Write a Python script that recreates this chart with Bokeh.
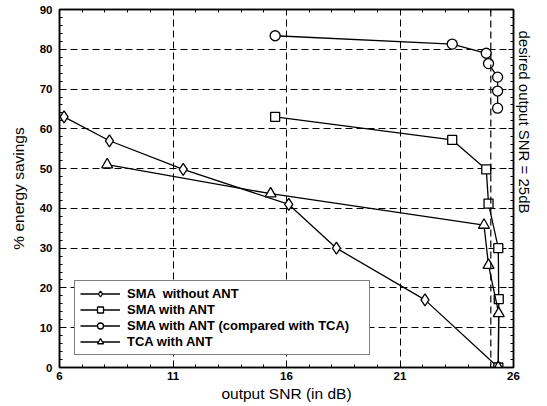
import math
from bokeh.plotting import figure
from bokeh.models import (Range1d, LinearAxis, FixedTicker,
                          Span, Title, Legend, LegendItem, CustomJSTickFormatter)
from bokeh.embed import file_html
from bokeh.resources import INLINE

# ---------------- data ----------------
x_ticks = [6, 11, 16, 21, 26]
y_ticks = [0, 10, 20, 30, 40, 50, 60, 70, 80, 90]
desired_snr = 25

sma_no_ant_x = [6.2, 8.2, 11.45, 16.1, 18.2, 22.1, 25.33]
sma_no_ant_y = [63, 57, 49.8, 41, 30, 17, 0]

sma_ant_x = [15.5, 23.3, 24.8, 24.9, 25.33, 25.35, 25.33]
sma_ant_y = [63, 57.2, 49.8, 41.2, 30, 17.2, 0]

sma_tca_x = [15.5, 23.3, 24.8, 24.9, 25.3, 25.3, 25.3]
sma_tca_y = [83.4, 81.3, 79, 76.4, 73, 69.5, 65.2]

tca_x = [8.1, 15.3, 24.7, 24.9, 25.35, 25.33]
tca_y = [51, 43.7, 35.8, 25.7, 13.6, 0]

labels = ["SMA  without ANT", "SMA with ANT",
          "SMA with ANT (compared with TCA)", "TCA with ANT"]

FONT = "Liberation Sans"

p = figure(width=539, height=404, x_range=Range1d(6, 26), y_range=Range1d(0, 90),
           output_backend="svg", toolbar_location=None,
           min_border_left=59, min_border_right=26, min_border_top=9, min_border_bottom=37,
           x_axis_label="output SNR (in dB)", y_axis_label="% energy savings")

p.outline_line_color = "black"
p.outline_line_width = 1.5
p.background_fill_color = "white"

minor_x = [v for v in range(6, 27) if v not in x_ticks]
minor_y = [v for v in range(0, 91, 2) if v % 10]
p.xaxis.ticker = FixedTicker(ticks=x_ticks, minor_ticks=minor_x)
p.yaxis.ticker = FixedTicker(ticks=y_ticks, minor_ticks=minor_y)

def style_axis(ax, show_labels=True):
    ax.axis_line_color = "black"
    ax.axis_line_width = 1.5
    ax.major_tick_in = 5
    ax.major_tick_out = 0
    ax.minor_tick_in = 3
    ax.minor_tick_out = 0
    ax.major_tick_line_color = "black"
    ax.minor_tick_line_color = "black"
    ax.major_label_text_font = FONT
    ax.major_label_text_font_style = "bold"
    ax.major_label_text_font_size = "11.5px"
    ax.major_label_text_color = "black"
    ax.axis_label_text_font = FONT
    ax.axis_label_text_font_style = "normal"
    ax.axis_label_text_font_size = "15.5px"
    ax.axis_label_text_color = "black"
    if not show_labels:
        ax.formatter = CustomJSTickFormatter(code="return ''")
        ax.major_label_standoff = 0

for ax in p.xaxis + p.yaxis:
    style_axis(ax)
p.xaxis.major_label_standoff = 4
p.xaxis.axis_label_standoff = 2
p.yaxis.major_label_standoff = 7
p.yaxis.axis_label_standoff = 10

ra = LinearAxis(ticker=FixedTicker(ticks=y_ticks, minor_ticks=minor_y))
style_axis(ra, show_labels=False)
p.add_layout(ra, "right")
ta = LinearAxis(ticker=FixedTicker(ticks=x_ticks, minor_ticks=minor_x))
style_axis(ta, show_labels=False)
p.add_layout(ta, "above")

p.xgrid.ticker = FixedTicker(ticks=x_ticks)
p.ygrid.ticker = FixedTicker(ticks=y_ticks)
for g in (p.xgrid, p.ygrid):
    g.grid_line_color = "black"
    g.grid_line_dash = "7 4"
    g.grid_line_width = 1

p.add_layout(Span(location=desired_snr, dimension="height", line_color="black",
                  line_dash="7 4", line_width=1.2))

lw = 1.3
r1l = p.line(sma_no_ant_x, sma_no_ant_y, line_color="black", line_width=lw)
r1s = p.scatter(sma_no_ant_x, sma_no_ant_y, marker="diamond", size=12,
                fill_color="white", line_color="black", line_width=lw)
r2l = p.line(sma_ant_x, sma_ant_y, line_color="black", line_width=lw)
r2s = p.scatter(sma_ant_x, sma_ant_y, marker="square", size=9,
                fill_color="white", line_color="black", line_width=lw)
r3l = p.line(sma_tca_x, sma_tca_y, line_color="black", line_width=lw)
r3s = p.scatter(sma_tca_x, sma_tca_y, marker="circle", size=10,
                fill_color="white", line_color="black", line_width=lw)
r4l = p.line(tca_x, tca_y, line_color="black", line_width=lw)
r4s = p.scatter(tca_x, tca_y, marker="triangle", size=11,
                fill_color="white", line_color="black", line_width=lw)

legend = Legend(items=[
    LegendItem(label=labels[0], renderers=[r1l, r1s]),
    LegendItem(label=labels[1], renderers=[r2l, r2s]),
    LegendItem(label=labels[2], renderers=[r3l, r3s]),
    LegendItem(label=labels[3], renderers=[r4l, r4s]),
], location=(15, 12))
legend.label_text_font = FONT
legend.label_text_font_style = "bold"
legend.label_text_font_size = "13px"
legend.label_text_color = "black"
legend.glyph_width = 40
legend.glyph_height = 15
legend.label_height = 15
legend.label_width = 237
legend.label_standoff = 7
legend.spacing = 1
legend.padding = 5
legend.margin = 0
legend.border_line_color = "black"
legend.border_line_width = 1.2
legend.background_fill_color = "white"
legend.background_fill_alpha = 1
p.add_layout(legend, "center")

rt = Title(text="desired output SNR = 25dB", align="left", offset=21,
           text_font=FONT, text_font_size="15px", text_font_style="normal",
           text_color="black", standoff=4)
p.add_layout(rt, "right")

open("out.html", "w").write(file_html(p, INLINE))
